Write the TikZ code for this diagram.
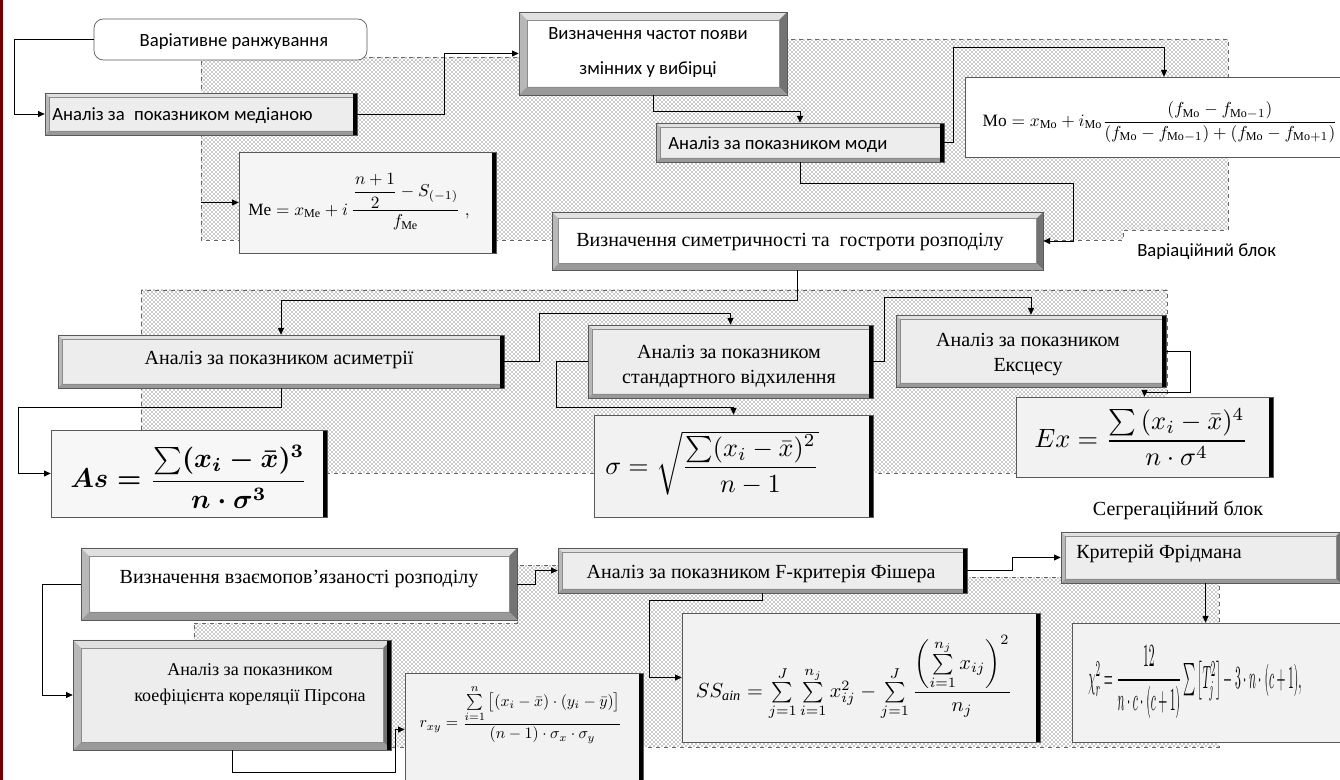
\documentclass[tikz,border=0pt]{standalone}
\usepackage{amsmath}
\usepackage{graphicx}
\usepackage{fontspec}
\setmainfont{Liberation Serif}
\newfontfamily\sansf{Carlito}
\usetikzlibrary{patterns,fit,calc,arrows.meta}
\newcommand\bvl[1]{%
  \coordinate (pa) at (path picture bounding box.north west);
  \coordinate (pb) at (path picture bounding box.north east);
  \coordinate (pc) at (path picture bounding box.south east);
  \coordinate (pd) at (path picture bounding box.south west);
  \fill[black!12] (pa) -- (pb) -- ([shift={(-#1,-#1)}]pb) -- ([shift={(#1,-#1)}]pa) -- cycle;
  \fill[black!28] (pa) -- ([shift={(#1,-#1)}]pa) -- ([shift={(#1,#1)}]pd) -- (pd) -- cycle;
  \fill[black!55] (pb) -- (pc) -- ([shift={(-#1,#1)}]pc) -- ([shift={(-#1,-#1)}]pb) -- cycle;
  \fill[black!40] (pd) -- ([shift={(#1,#1)}]pd) -- ([shift={(-#1,#1)}]pc) -- (pc) -- cycle;
  \draw[black!45, line width=0.4pt] ([shift={(#1,-#1)}]pa) rectangle ([shift={(-#1,#1)}]pc);
}
\newcommand\drk{\fill[black] ([xshift=-3.2pt]path picture bounding box.north east) rectangle (path picture bounding box.south east);}
\tikzset{
  bx/.style={draw=black!65, line width=0.5pt, inner sep=0pt},
  bev/.style 2 args={bx, fill=#1, path picture={\bvl{#2}}},
  bevd/.style 2 args={bx, fill=#1, path picture={\bvl{#2}\drk}},
  pld/.style={bx, fill=#1, path picture={\drk}},
  conn/.style={draw=black, line width=0.6pt},
  arr/.style={conn, -{Triangle[length=5pt,width=4.5pt]}},
  hatch/.style={pattern=crosshatch dots, pattern color=black!85, draw=black!60, dashed, line width=0.5pt},
  sanst/.style={font=\sansf\fontsize{14}{17}\selectfont, inner sep=0pt},
  sert/.style={font=\rmfamily\fontsize{15}{18}\selectfont, inner sep=0pt},
  sers/.style={font=\rmfamily\fontsize{13.5}{16}\selectfont, inner sep=0pt},
}
\begin{document}
\begin{tikzpicture}[x=0.75pt,y=-0.75pt]
\fill[white] (0,0) rectangle (1340,780);
\useasboundingbox (0,0) rectangle (1340,780);
\fill[red!45!black] (0,0) rectangle (3,780);

% hatched blocks
\path[hatch] (201,57) -- (519,57) -- (519,39) -- (1228,39) -- (1228,230) -- (1123,230) -- (1123,240) -- (201,240) -- cycle;
\path[hatch] (141,290) rectangle (1167,473);
\path[hatch] (194,623) -- (517,623) -- (517,565) -- (967,565) -- (967,577) -- (1219,577) -- (1219,747) -- (194,747) -- cycle;

% top block
\node[bx, fill=white, rounded corners=7pt, fit={(94,19)(367,60)}] (var) {};
\node[sanst] (vart) at (234,42) {Варіативне ранжування};
\node[bevd={black!7}{3pt}, fit={(45,93)(357,135)}] (med) {};
\node[sanst, anchor=west] (medt) at (52,116) {Аналіз за\enspace показником медіаною};
\node[bev={white}{6pt}, fit={(519,12)(787,95)}] (freq) {};
\node[sanst] (freqt1) at (648,34) {Визначення частот появи};
\node[sanst] (freqt2) at (648,70) {змінних у вибірці};
\node[bevd={black!7}{3pt}, fit={(656,123)(944,162)}] (mode) {};
\node[sanst, anchor=west] (modet) at (668,145) {Аналіз за показником моди};
\node[bx, fill=white, fit={(965,77)(1340,157)}] (mo) {};
\node (mof) at (1160,122) {\resizebox{266pt}{!}{$\mathrm{Mo}=x_{\mathrm{Mo}}+i_{\mathrm{Mo}}\dfrac{(f_{\mathrm{Mo}}-f_{\mathrm{Mo}-1})}{(f_{\mathrm{Mo}}-f_{\mathrm{Mo}-1})+(f_{\mathrm{Mo}}-f_{\mathrm{Mo}+1})}$}};
\node[pld={black!4}, fit={(239,152)(496,253)}] (me) {};
\node (mef) at (359,202) {\resizebox{166pt}{!}{$\mathrm{Me}=x_{\mathrm{Me}}+i\,\dfrac{\dfrac{n+1}{2}-S_{(-1)}}{f_{\mathrm{Me}}}\;,$}};
\node[bev={white}{5pt}, fit={(552,212)(1043,270)}] (sym) {};
\node[sert] (symt) at (790,242) {Визначення симетричності та\enspace гостроти розподілу};
\node[sanst, anchor=west] (varl) at (1137,252) {Варіаційний блок};

% middle block
\node[bevd={black!7}{3pt}, fit={(58,335)(504,388)}] (asym) {};
\node[sert] (asymt) at (279,360) {Аналіз за показником асиметрії};
\node[bevd={black!7}{3pt}, fit={(588,325)(873,398)}] (std) {};
\node[sert] (stdt1) at (729,352) {Аналіз за показником};
\node[sert] (stdt2) at (729,379) {стандартного відхилення};
\node[bevd={black!7}{3pt}, fit={(896,315)(1166,387)}] (exc) {};
\node[sert] (exct1) at (1028,340) {Аналіз за показником};
\node[sert] (exct2) at (1028,367) {Ексцесу};
\node[pld={black!3}, fit={(51,430)(327,517)}] (as) {};
\node (asf) at (189,477) {\resizebox{178pt}{!}{\boldmath$As=\dfrac{\sum(x_i-\bar{x})^3}{n\cdot\sigma^3}$}};
\node[pld={black!5}, fit={(594,415)(873,517)}] (sigma) {};
\node (sigmaf) at (712,463) {\resizebox{160pt}{!}{$\sigma=\sqrt{\dfrac{\sum(x_i-\bar{x})^2}{n-1}}$}};
\node[pld={black!5}, fit={(1016,397)(1273,477)}] (ex) {};
\node (exf) at (1141,437) {\resizebox{160pt}{!}{$Ex=\dfrac{\sum\,(x_i-\bar{x})^4}{n\cdot\sigma^4}$}};
\node[sert] (segl) at (1178,510) {Сегрегаційний блок};

% bottom block
\node[bev={white}{6pt}, fit={(81,548)(517,620)}] (rel) {};
\node[sert] (relt) at (299,579) {Визначення взаємопов’язаності розподілу};
\node[bevd={black!7}{6pt}, fit={(73,640)(391,750)}] (pear) {};
\node[sers] (peart1) at (250,670) {Аналіз за показником};
\node[sers] (peart2) at (250,697) {коефіцієнта кореляції Пірсона};
\node[pld={black!5}, fit={(405,673)(643,786)}] (r) {};
\node (rf) at (521,714) {\resizebox{152pt}{!}{$r_{xy}=\dfrac{\sum\limits_{i=1}^{n}\big[(x_i-\bar{x})\cdot(y_i-\bar{y})\big]}{(n-1)\cdot\sigma_x\cdot\sigma_y}$}};
\node[bevd={black!7}{3pt}, fit={(558,548)(967,593)}] (fisher) {};
\node[sert] (fishert) at (761,574) {Аналіз за показником F-критерія Фішера};
\node[pld={black!5}, fit={(682,613)(1040,742)}] (ss) {};
\node (ssf) at (854,678) {\resizebox{237pt}{!}{$SS_{\mathit{ain}}=\sum\limits_{j=1}^{J}\sum\limits_{i=1}^{n_j}x_{ij}^2-\sum\limits_{j=1}^{J}\dfrac{\left(\sum\limits_{i=1}^{n_j}x_{ij}\right)^2}{n_j}$}};
\node[bev={black!7}{3pt}, fit={(1061,532)(1340,583)}] (fried) {};
\node[sert, anchor=west] (friedt) at (1076,554) {Критерій Фрідмана};
\node[bx, fill=black!5, fit={(1072,623)(1340,742)}] (chi) {};
\node (chif) at (1195,682) {\resizebox{160pt}{32pt}{$\chi_r^2=\dfrac{12}{n\cdot c\cdot(c+1)}\sum\big[T_j^2\big]-3\cdot n\cdot(c+1),$}};

% connectors
\draw[arr] (var.west) -- ++(-79,0) |- (med.west);
\draw[arr] (med.east) -- ++(87,0) |- (freq.west);
\draw[arr] (freq.south) -- ++(0,16) -| (mode.north);
\draw[arr] (mode.east) -- ++(9,0) -- ++(0,-95.5) -| ($(mo.north)+(11.5,0)$);
\draw[arr] (mode.south) -- ++(0,21) -| ($(sym.east)+(30,0)$) -- (sym.east);
\coordinate (mein) at (201,202.5);
\draw[arr] (mein) -- (me.west);
\draw[arr] (sym.south) -- ++(0,30) -| (asym.north);
\draw[arr] (asym.east) -- ++(35,0) -- ++(0,-48.5) -| (std.north);
\draw[arr] (std.west) -- ++(-31,0) -- ++(0,45.5) -| (sigma.north);
\draw[arr] (std.east) -- ++(11,0) -- ++(0,-64.5) -| (exc.north);
\draw[arr] (exc.east) -- ++(24,0) -- ++(0,41) -| (ex.north);
\draw[arr] (asym.south) -- ++(0,19) -| ($(as.west)+(-32,0)$) -- (as.west);
\draw[arr] (rel.west) -- ++(-38,0) |- (pear.west);
\draw[arr] (pear.south) -- ++(0,22) -| ($(r.west)+(-9,0)$) -- (r.west);
\draw[arr] (rel.east) -- ++(18,0) |- (fisher.west);
\draw[arr] (fisher.south) -- ++(0,7) -| ($(ss.west)+(-32,0)$) -- (ss.west);
\draw[arr] (fisher.east) -- ++(45,0) |- (fried.west);
\coordinate (fs) at ($(fried.south)+(5,0)$);
\draw[arr] (fs) -- (fs |- chi.north);
\end{tikzpicture}
\end{document}
